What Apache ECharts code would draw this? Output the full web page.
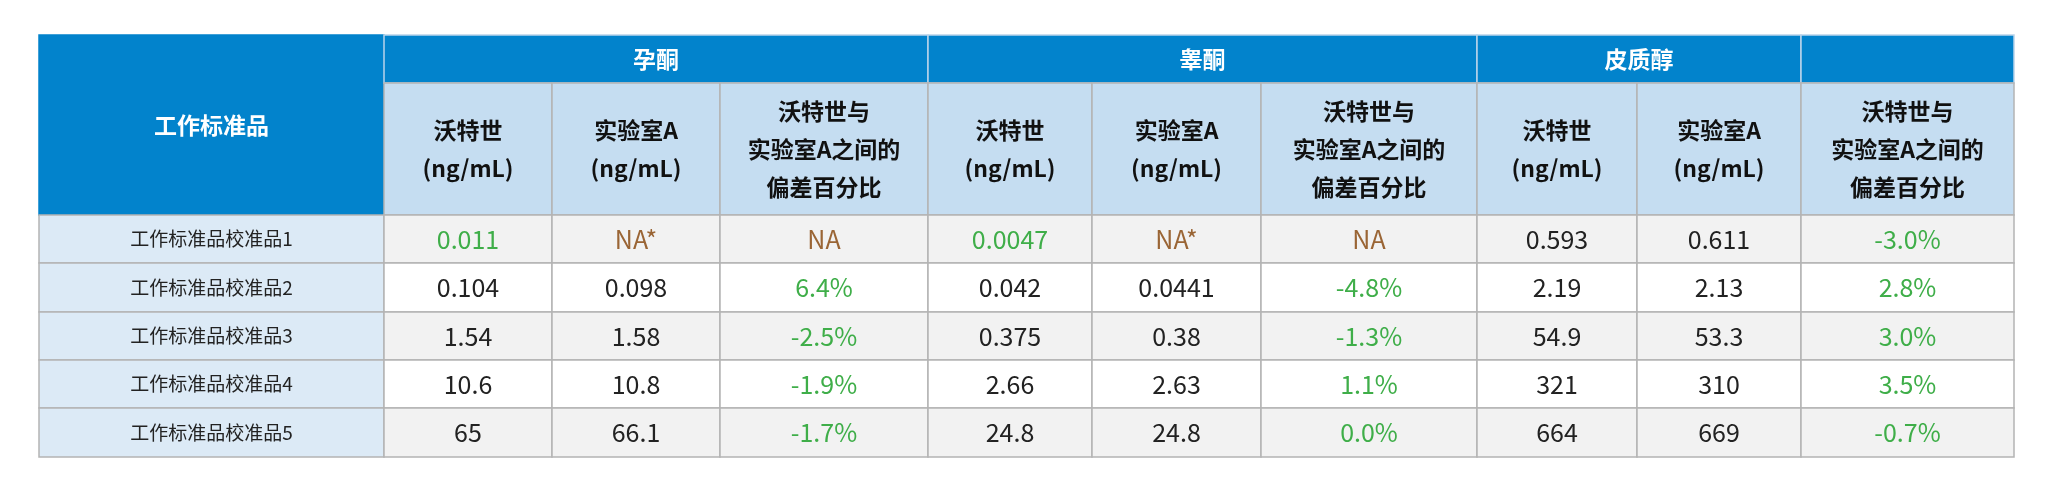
<!DOCTYPE html>
<html>
<head>
<meta charset="utf-8">
<script src="https://cdn.jsdelivr.net/npm/echarts@6/dist/echarts.min.js"></script>
<style>html,body{margin:0;padding:0;background:#fff}#main{width:2048px;height:490px}</style>
</head>
<body>
<div id="main"></div>
<script>
// 表格数据
var groups = ['孕酮', '睾酮', '皮质醇', ''];
var subHeaders = ['沃特世\n(ng/mL)', '实验室A\n(ng/mL)', '沃特世与\n实验室A之间的\n偏差百分比'];
var rowLabels = ['工作标准品校准品1', '工作标准品校准品2', '工作标准品校准品3', '工作标准品校准品4', '工作标准品校准品5'];
var progesterone = [['0.011', 'NA*', 'NA'], ['0.104', '0.098', '6.4%'], ['1.54', '1.58', '-2.5%'], ['10.6', '10.8', '-1.9%'], ['65', '66.1', '-1.7%']];
var testosterone = [['0.0047', 'NA*', 'NA'], ['0.042', '0.0441', '-4.8%'], ['0.375', '0.38', '-1.3%'], ['2.66', '2.63', '1.1%'], ['24.8', '24.8', '0.0%']];
var cortisol = [['0.593', '0.611', '-3.0%'], ['2.19', '2.13', '2.8%'], ['54.9', '53.3', '3.0%'], ['321', '310', '3.5%'], ['664', '669', '-0.7%']];
// 绿色标记的数值
var flagged = ['0.011', '0.0047'];

// 布局
var colX = [39, 384, 552, 720, 928, 1092, 1261, 1477, 1637, 1801, 2014];
var rowY = [35, 83, 215, 263, 312, 360, 408, 457];
var FONT = '"Noto Sans CJK SC", "Noto Sans", sans-serif';
var BORDER = '#b4b4b4';
var GREEN = '#3fae49', BROWN = '#9a6535';

function cell(x1, y1, x2, y2, fill, stroke) {
    return {type: 'rect', shape: {x: x1, y: y1, width: x2 - x1, height: y2 - y1},
        style: {fill: fill, stroke: stroke || BORDER, lineWidth: 1.5}};
}
function label(x1, y1, x2, y2, t, color, size, bold, lh) {
    return {type: 'text', x: (x1 + x2) / 2, y: (y1 + y2) / 2,
        style: {text: t, fill: color, font: (bold ? 'bold ' : '') + size + 'px ' + FONT,
            align: 'center', verticalAlign: 'middle', lineHeight: lh || size * 1.3}};
}
function valueColor(v, col) {
    if (v.indexOf('NA') === 0) return BROWN;
    if (col === 2 || flagged.indexOf(v) >= 0) return GREEN;
    return '#222';
}

var els = [];
// 表头
els.push(cell(colX[0], rowY[0], colX[1], rowY[2], '#0283cc', '#0283cc'));
els.push(label(colX[0], rowY[0], colX[1], rowY[2], '工作标准品', '#fff', 23, true));
var spans = [[1, 4], [4, 7], [7, 9], [9, 10]];
for (var g = 0; g < spans.length; g++) {
    var a = colX[spans[g][0]], b = colX[spans[g][1]];
    els.push(cell(a, rowY[0], b, rowY[1], '#0283cc', '#b9d4ea'));
    els.push(label(a, rowY[0], b, rowY[1], groups[g], '#fff', 23, true));
}
for (var c = 1; c < 10; c++) {
    els.push(cell(colX[c], rowY[1], colX[c + 1], rowY[2], '#c5ddf1'));
    els.push(label(colX[c], rowY[1], colX[c + 1], rowY[2], subHeaders[(c - 1) % 3], '#111', 23, true, 38));
}
// 数据行
var tables = [progesterone, testosterone, cortisol];
for (var r = 0; r < rowLabels.length; r++) {
    var y1 = rowY[r + 2], y2 = rowY[r + 3];
    var bg = r % 2 === 0 ? '#f2f2f2' : '#ffffff';
    els.push(cell(colX[0], y1, colX[1], y2, '#dceaf6'));
    els.push(label(colX[0], y1, colX[1], y2, rowLabels[r], '#222', 19, false));
    for (var t = 0; t < 3; t++) {
        for (var k = 0; k < 3; k++) {
            var ci = 1 + t * 3 + k;
            var v = tables[t][r][k];
            els.push(cell(colX[ci], y1, colX[ci + 1], y2, bg));
            els.push(label(colX[ci], y1, colX[ci + 1], y2, v, valueColor(v, k), 25, false));
        }
    }
}

var chart = echarts.init(document.getElementById('main'), null, {renderer: 'canvas'});
chart.setOption({animation: false, backgroundColor: '#fff', graphic: {elements: els}});
</script>
</body>
</html>
